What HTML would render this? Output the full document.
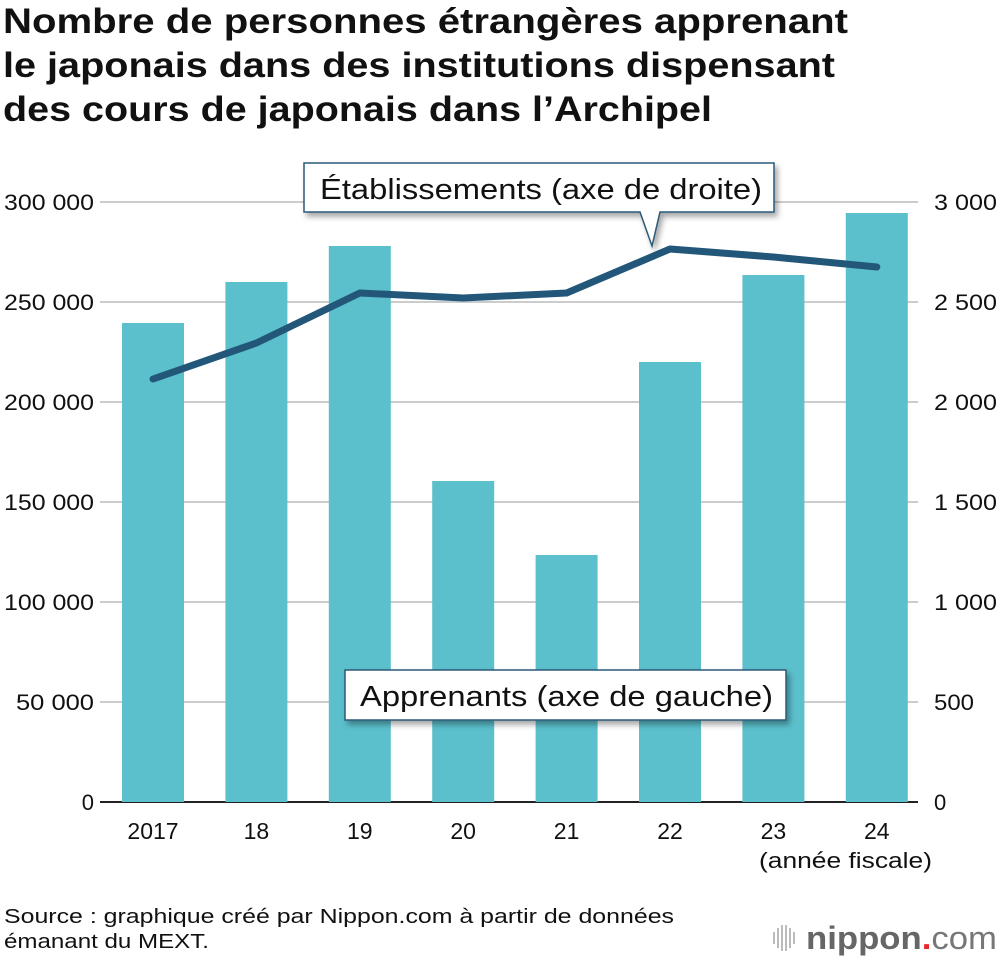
<!DOCTYPE html>
<html><head><meta charset="utf-8"><style>
body{margin:0;background:#fff;font-family:"Liberation Sans",Arial,sans-serif}
svg text{font-family:"Liberation Sans",Arial,sans-serif}
</style></head><body>
<svg width="1000" height="960" xmlns="http://www.w3.org/2000/svg" id="chart">
<text font-size="35" font-weight="bold" fill="#111" lengthAdjust="spacingAndGlyphs">
<tspan x="3" y="33" textLength="845" lengthAdjust="spacingAndGlyphs">Nombre de personnes étrangères apprenant</tspan>
<tspan x="3" y="77" textLength="832" lengthAdjust="spacingAndGlyphs">le japonais dans des institutions dispensant</tspan>
<tspan x="3" y="121" textLength="709" lengthAdjust="spacingAndGlyphs">des cours de japonais dans l’Archipel</tspan></text>
<g id="grid"></g><g id="bars"></g><g id="line"></g><g id="ticks"></g>
<defs><filter id="sh" x="-10%" y="-10%" width="130%" height="140%"><feDropShadow dx="3" dy="4" stdDeviation="3" flood-opacity="0.35"/></filter></defs>
<g>
<path d="M304,163 H774 V212 H660 L652,246 L640,212 H304 Z" fill="#fff" stroke="#2b5a78" stroke-width="1.5" filter="url(#sh)"/>
<text x="320" y="199" font-size="29" textLength="442" lengthAdjust="spacingAndGlyphs" fill="#111">Établissements (axe de droite)</text></g>
<g>
<rect x="345" y="670" width="441" height="50" fill="#fff" stroke="#2b5a78" stroke-width="1.5" filter="url(#sh)"/>
<text x="360" y="706" font-size="29" textLength="413" lengthAdjust="spacingAndGlyphs" fill="#111">Apprenants (axe de gauche)</text></g>
<text x="759" y="868" font-size="22" textLength="173" lengthAdjust="spacingAndGlyphs" fill="#111">(année fiscale)</text>
<text font-size="20" fill="#111"><tspan x="4" y="923" textLength="670" lengthAdjust="spacingAndGlyphs">Source : graphique créé par Nippon.com à partir de données</tspan><tspan x="4" y="948" textLength="205" lengthAdjust="spacingAndGlyphs">émanant du MEXT.</tspan></text>
<g>
<g stroke="#bbb" stroke-width="2"><line x1="774" y1="932" x2="774" y2="944"/><line x1="778" y1="928" x2="778" y2="948"/><line x1="782" y1="925" x2="782" y2="951"/><line x1="786" y1="925" x2="786" y2="951"/><line x1="790" y1="928" x2="790" y2="948"/><line x1="794" y1="932" x2="794" y2="944"/></g>
<text x="806" y="949" font-size="32" textLength="191" lengthAdjust="spacingAndGlyphs" font-weight="bold" fill="#666">nippon<tspan fill="#e8262d">.</tspan><tspan font-weight="normal" fill="#777">com</tspan></text></g>
</svg>
<script>
const categories=["2017","18","19","20","21","22","23","24"];
const learners=[239500,260000,278000,160500,123500,220000,263500,294500];
const establishments=[2115,2295,2545,2520,2545,2765,2725,2675];
const leftTicks=[0,50000,100000,150000,200000,250000,300000];
const rightTicks=[0,500,1000,1500,2000,2500,3000];
const NS="http://www.w3.org/2000/svg";
const y0=802,yTop=202,xL=100,xR=918;
const yL=v=>y0-(v/300000)*(y0-yTop);
const yR=v=>y0-(v/3000)*(y0-yTop);
const step=103.4;
const xC=i=>153+step*i;
function mk(t,a,p){const e=document.createElementNS(NS,t);for(const k in a)e.setAttribute(k,a[k]);p.appendChild(e);return e;}
const g=document.getElementById('grid'),b=document.getElementById('bars'),l=document.getElementById('line'),tk=document.getElementById('ticks');
leftTicks.forEach((v,i)=>{
 const ln=mk('line',{x1:xL,x2:xR,y1:yL(v),y2:yL(v),stroke:v===0?'#222':'#ccc','stroke-width':2},g);
 
 
 const t=mk('text',{x:94,y:yL(v)+8,'font-size':22,'text-anchor':'end',fill:'#111'},tk);
 t.textContent=v===0?'0':(v/1000)+' 000';
 if(v>=100000){t.setAttribute('textLength',90);t.setAttribute('lengthAdjust','spacingAndGlyphs');}
 else if(v>0){t.setAttribute('textLength',78);t.setAttribute('lengthAdjust','spacingAndGlyphs');}
 
 
});
rightTicks.forEach(v=>{
 const t=mk('text',{x:934,y:yR(v)+8,'font-size':22,fill:'#111'},tk);
 t.textContent=v>=1000?(Math.floor(v/1000)+' '+String(v%1000).padStart(3,'0')):String(v);
 if(v>=1000){t.setAttribute('textLength',63);t.setAttribute('lengthAdjust','spacingAndGlyphs');}
 else if(v>0){t.setAttribute('textLength',40);t.setAttribute('lengthAdjust','spacingAndGlyphs');}
 
 
});
categories.forEach((c,i)=>{
 const r=mk('rect',{x:xC(i)-31,y:yL(learners[i]),width:62,height:y0-yL(learners[i]),fill:'#5bc0cc'},b);
 
 
 const t=mk('text',{x:xC(i),y:839,'font-size':23,'text-anchor':'middle',fill:'#111'},tk);
 t.textContent=c;
 
 
});
const pl=mk('polyline',{points:establishments.map((v,i)=>xC(i)+','+yR(v)).join(' '),fill:'none',stroke:'#22577a','stroke-width':7,'stroke-linecap':'round','stroke-linejoin':'round'},l);


</script>
</body></html>
